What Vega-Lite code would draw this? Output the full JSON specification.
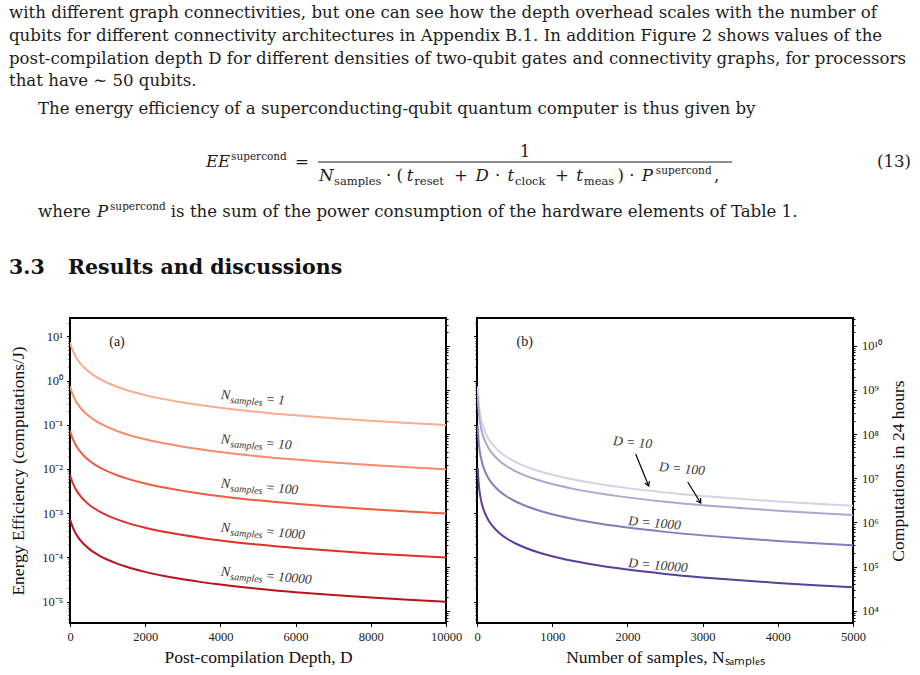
{
  "$schema": "https://vega.github.io/schema/vega-lite/v6.json",
  "background": "white",
  "padding": {"left": 8, "top": 0, "right": 0, "bottom": 0},
  "bounds": "flush",
  "spacing": 0,
  "config": {
    "view": {"stroke": "#000", "strokeWidth": 2},
    "axis": {
      "domain": false, "grid": false, "ticks": true, "tickSize": 3.5, "tickColor": "#000", "tickWidth": 1,
      "labelFont": "Liberation Serif", "labelFontSize": 12.5, "labelColor": "#222", "labelPadding": 4,
      "labelFlush": false, "labelOverlap": false,
      "titleFont": "Liberation Serif", "titleFontSize": 17.5, "titleFontWeight": "normal", "titleColor": "#111"
    },
    "text": {"font": "Liberation Serif", "color": "#222"},
    "point": {"opacity": 1}
  },
  "datasets": {
    "page": [
      {"kind": "body", "pos": 0, "line": 1, "text": "with different graph connectivities, but one can see how the depth overhead scales with the number of"},
      {"kind": "body", "pos": 0, "line": 2, "text": "qubits for different connectivity architectures in Appendix B.1. In addition Figure 2 shows values of the"},
      {"kind": "body", "pos": 0, "line": 3, "text": "post-compilation depth D for different densities of two-qubit gates and connectivity graphs, for processors"},
      {"kind": "body", "pos": 0, "line": 4, "text": "that have ∼ 50 qubits."},
      {"kind": "body", "pos": 3.21, "line": 5.211, "text": "The energy efficiency of a superconducting-qubit quantum computer is thus given by"},
      {"kind": "ital", "pos": 21.79, "line": 7.535, "text": "EE"},
      {"kind": "sup", "pos": 24.56, "line": 7.535, "text": "supercond"},
      {"kind": "body", "pos": 31.64, "line": 7.535, "text": "="},
      {"kind": "center", "pos": 57.08, "line": 7.096, "text": "1"},
      {"kind": "ital", "pos": 34.29, "line": 8.149, "text": "N"},
      {"kind": "sub", "pos": 35.95, "line": 8.149, "text": "samples"},
      {"kind": "body", "pos": 41.7, "line": 8.149, "text": "· ("},
      {"kind": "ital", "pos": 44.0, "line": 8.149, "text": "t"},
      {"kind": "sub", "pos": 44.84, "line": 8.149, "text": "reset"},
      {"kind": "body", "pos": 49.23, "line": 8.149, "text": "+"},
      {"kind": "ital", "pos": 51.6, "line": 8.149, "text": "D"},
      {"kind": "body", "pos": 53.75, "line": 8.149, "text": "·"},
      {"kind": "ital", "pos": 55.15, "line": 8.149, "text": "t"},
      {"kind": "sub", "pos": 55.98, "line": 8.149, "text": "clock"},
      {"kind": "body", "pos": 60.4, "line": 8.149, "text": "+"},
      {"kind": "ital", "pos": 62.75, "line": 8.149, "text": "t"},
      {"kind": "sub", "pos": 63.58, "line": 8.149, "text": "meas"},
      {"kind": "body", "pos": 67.3, "line": 8.149, "text": ") ·"},
      {"kind": "ital", "pos": 70.0, "line": 8.149, "text": "P"},
      {"kind": "sup", "pos": 71.55, "line": 8.149, "text": "supercond"},
      {"kind": "body", "pos": 78.0, "line": 8.149, "text": ","},
      {"kind": "body", "pos": 96.02, "line": 7.535, "text": "(13)"},
      {"kind": "body", "pos": 3.21, "line": 9.728, "text": "where"},
      {"kind": "ital", "pos": 9.73, "line": 9.728, "text": "P"},
      {"kind": "sup", "pos": 11.17, "line": 9.728, "text": "supercond"},
      {"kind": "body", "pos": 17.9, "line": 9.728, "text": "is the sum of the power consumption of the hardware elements of Table 1."},
      {"kind": "head", "pos": 0, "line": 12.228, "text": "3.3"},
      {"kind": "head", "pos": 6.53, "line": 12.228, "text": "Results and discussions"}
    ],
    "fractionBar": [
      {"pos": 34.18, "pos2": 79.98, "line": 7.316}
    ],
    "effA": [
      {"N": 1, "D": 0, "EE": 7.407}, {"N": 1, "D": 5, "EE": 7.143}, {"N": 1, "D": 10, "EE": 6.897}, {"N": 1, "D": 20, "EE": 6.452},
      {"N": 1, "D": 35, "EE": 5.882}, {"N": 1, "D": 50, "EE": 5.405}, {"N": 1, "D": 75, "EE": 4.762}, {"N": 1, "D": 100, "EE": 4.255},
      {"N": 1, "D": 150, "EE": 3.509}, {"N": 1, "D": 200, "EE": 2.985}, {"N": 1, "D": 300, "EE": 2.299}, {"N": 1, "D": 400, "EE": 1.869},
      {"N": 1, "D": 500, "EE": 1.575}, {"N": 1, "D": 650, "EE": 1.274}, {"N": 1, "D": 800, "EE": 1.07}, {"N": 1, "D": 1000, "EE": 0.8811},
      {"N": 1, "D": 1250, "EE": 0.722}, {"N": 1, "D": 1500, "EE": 0.6116}, {"N": 1, "D": 2000, "EE": 0.4684}, {"N": 1, "D": 2500, "EE": 0.3795},
      {"N": 1, "D": 3000, "EE": 0.319}, {"N": 1, "D": 3500, "EE": 0.2751}, {"N": 1, "D": 4000, "EE": 0.2418}, {"N": 1, "D": 5000, "EE": 0.1947},
      {"N": 1, "D": 6000, "EE": 0.163}, {"N": 1, "D": 7000, "EE": 0.1402}, {"N": 1, "D": 8000, "EE": 0.1229}, {"N": 1, "D": 9000, "EE": 0.1095},
      {"N": 1, "D": 10000, "EE": 0.09867},
      {"N": 10, "D": 0, "EE": 0.7407}, {"N": 10, "D": 5, "EE": 0.7143}, {"N": 10, "D": 10, "EE": 0.6897}, {"N": 10, "D": 20, "EE": 0.6452},
      {"N": 10, "D": 35, "EE": 0.5882}, {"N": 10, "D": 50, "EE": 0.5405}, {"N": 10, "D": 75, "EE": 0.4762}, {"N": 10, "D": 100, "EE": 0.4255},
      {"N": 10, "D": 150, "EE": 0.3509}, {"N": 10, "D": 200, "EE": 0.2985}, {"N": 10, "D": 300, "EE": 0.2299}, {"N": 10, "D": 400, "EE": 0.1869},
      {"N": 10, "D": 500, "EE": 0.1575}, {"N": 10, "D": 650, "EE": 0.1274}, {"N": 10, "D": 800, "EE": 0.107}, {"N": 10, "D": 1000, "EE": 0.08811},
      {"N": 10, "D": 1250, "EE": 0.0722}, {"N": 10, "D": 1500, "EE": 0.06116}, {"N": 10, "D": 2000, "EE": 0.04684}, {"N": 10, "D": 2500, "EE": 0.03795},
      {"N": 10, "D": 3000, "EE": 0.0319}, {"N": 10, "D": 3500, "EE": 0.02751}, {"N": 10, "D": 4000, "EE": 0.02418}, {"N": 10, "D": 5000, "EE": 0.01947},
      {"N": 10, "D": 6000, "EE": 0.0163}, {"N": 10, "D": 7000, "EE": 0.01402}, {"N": 10, "D": 8000, "EE": 0.01229}, {"N": 10, "D": 9000, "EE": 0.01095},
      {"N": 10, "D": 10000, "EE": 0.009867},
      {"N": 100, "D": 0, "EE": 0.07407}, {"N": 100, "D": 5, "EE": 0.07143}, {"N": 100, "D": 10, "EE": 0.06897}, {"N": 100, "D": 20, "EE": 0.06452},
      {"N": 100, "D": 35, "EE": 0.05882}, {"N": 100, "D": 50, "EE": 0.05405}, {"N": 100, "D": 75, "EE": 0.04762}, {"N": 100, "D": 100, "EE": 0.04255},
      {"N": 100, "D": 150, "EE": 0.03509}, {"N": 100, "D": 200, "EE": 0.02985}, {"N": 100, "D": 300, "EE": 0.02299}, {"N": 100, "D": 400, "EE": 0.01869},
      {"N": 100, "D": 500, "EE": 0.01575}, {"N": 100, "D": 650, "EE": 0.01274}, {"N": 100, "D": 800, "EE": 0.0107}, {"N": 100, "D": 1000, "EE": 0.008811},
      {"N": 100, "D": 1250, "EE": 0.00722}, {"N": 100, "D": 1500, "EE": 0.006116}, {"N": 100, "D": 2000, "EE": 0.004684}, {"N": 100, "D": 2500, "EE": 0.003795},
      {"N": 100, "D": 3000, "EE": 0.00319}, {"N": 100, "D": 3500, "EE": 0.002751}, {"N": 100, "D": 4000, "EE": 0.002418}, {"N": 100, "D": 5000, "EE": 0.001947},
      {"N": 100, "D": 6000, "EE": 0.00163}, {"N": 100, "D": 7000, "EE": 0.001402}, {"N": 100, "D": 8000, "EE": 0.001229}, {"N": 100, "D": 9000, "EE": 0.001095},
      {"N": 100, "D": 10000, "EE": 0.0009867},
      {"N": 1000, "D": 0, "EE": 7.407e-3}, {"N": 1000, "D": 5, "EE": 7.143e-3}, {"N": 1000, "D": 10, "EE": 6.897e-3}, {"N": 1000, "D": 20, "EE": 6.452e-3},
      {"N": 1000, "D": 35, "EE": 5.882e-3}, {"N": 1000, "D": 50, "EE": 5.405e-3}, {"N": 1000, "D": 75, "EE": 4.762e-3}, {"N": 1000, "D": 100, "EE": 4.255e-3},
      {"N": 1000, "D": 150, "EE": 3.509e-3}, {"N": 1000, "D": 200, "EE": 2.985e-3}, {"N": 1000, "D": 300, "EE": 2.299e-3}, {"N": 1000, "D": 400, "EE": 1.869e-3},
      {"N": 1000, "D": 500, "EE": 1.575e-3}, {"N": 1000, "D": 650, "EE": 1.274e-3}, {"N": 1000, "D": 800, "EE": 1.07e-3}, {"N": 1000, "D": 1000, "EE": 8.811e-4},
      {"N": 1000, "D": 1250, "EE": 7.22e-4}, {"N": 1000, "D": 1500, "EE": 6.116e-4}, {"N": 1000, "D": 2000, "EE": 4.684e-4}, {"N": 1000, "D": 2500, "EE": 3.795e-4},
      {"N": 1000, "D": 3000, "EE": 3.19e-4}, {"N": 1000, "D": 3500, "EE": 2.751e-4}, {"N": 1000, "D": 4000, "EE": 2.418e-4}, {"N": 1000, "D": 5000, "EE": 1.947e-4},
      {"N": 1000, "D": 6000, "EE": 1.63e-4}, {"N": 1000, "D": 7000, "EE": 1.402e-4}, {"N": 1000, "D": 8000, "EE": 1.229e-4}, {"N": 1000, "D": 9000, "EE": 1.095e-4},
      {"N": 1000, "D": 10000, "EE": 9.867e-5},
      {"N": 10000, "D": 0, "EE": 7.407e-4}, {"N": 10000, "D": 5, "EE": 7.143e-4}, {"N": 10000, "D": 10, "EE": 6.897e-4}, {"N": 10000, "D": 20, "EE": 6.452e-4},
      {"N": 10000, "D": 35, "EE": 5.882e-4}, {"N": 10000, "D": 50, "EE": 5.405e-4}, {"N": 10000, "D": 75, "EE": 4.762e-4}, {"N": 10000, "D": 100, "EE": 4.255e-4},
      {"N": 10000, "D": 150, "EE": 3.509e-4}, {"N": 10000, "D": 200, "EE": 2.985e-4}, {"N": 10000, "D": 300, "EE": 2.299e-4}, {"N": 10000, "D": 400, "EE": 1.869e-4},
      {"N": 10000, "D": 500, "EE": 1.575e-4}, {"N": 10000, "D": 650, "EE": 1.274e-4}, {"N": 10000, "D": 800, "EE": 1.07e-4}, {"N": 10000, "D": 1000, "EE": 8.811e-5},
      {"N": 10000, "D": 1250, "EE": 7.22e-5}, {"N": 10000, "D": 1500, "EE": 6.116e-5}, {"N": 10000, "D": 2000, "EE": 4.684e-5}, {"N": 10000, "D": 2500, "EE": 3.795e-5},
      {"N": 10000, "D": 3000, "EE": 3.19e-5}, {"N": 10000, "D": 3500, "EE": 2.751e-5}, {"N": 10000, "D": 4000, "EE": 2.418e-5}, {"N": 10000, "D": 5000, "EE": 1.947e-5},
      {"N": 10000, "D": 6000, "EE": 1.63e-5}, {"N": 10000, "D": 7000, "EE": 1.402e-5}, {"N": 10000, "D": 8000, "EE": 1.229e-5}, {"N": 10000, "D": 9000, "EE": 1.095e-5},
      {"N": 10000, "D": 10000, "EE": 9.867e-6}
    ],
    "labA": [
      {"N": 1, "D": 4000, "EE": 0.381, "eq": "= 1"},
      {"N": 10, "D": 4000, "EE": 0.0381, "eq": "= 10"},
      {"N": 100, "D": 4000, "EE": 0.00381, "eq": "= 100"},
      {"N": 1000, "D": 4000, "EE": 0.000381, "eq": "= 1000"},
      {"N": 10000, "D": 4000, "EE": 0.0000381, "eq": "= 10000"}
    ],
    "effB": [
      {"depth": 10, "samples": 10, "comp": 1.192e9}, {"depth": 10, "samples": 15, "comp": 7.945e8}, {"depth": 10, "samples": 20, "comp": 5.959e8},
      {"depth": 10, "samples": 30, "comp": 3.972e8}, {"depth": 10, "samples": 40, "comp": 2.979e8}, {"depth": 10, "samples": 50, "comp": 2.383e8},
      {"depth": 10, "samples": 75, "comp": 1.589e8}, {"depth": 10, "samples": 100, "comp": 1.192e8}, {"depth": 10, "samples": 150, "comp": 7.945e7},
      {"depth": 10, "samples": 200, "comp": 5.959e7}, {"depth": 10, "samples": 300, "comp": 3.972e7}, {"depth": 10, "samples": 400, "comp": 2.979e7},
      {"depth": 10, "samples": 500, "comp": 2.383e7}, {"depth": 10, "samples": 650, "comp": 1.833e7}, {"depth": 10, "samples": 800, "comp": 1.49e7},
      {"depth": 10, "samples": 1000, "comp": 1.192e7}, {"depth": 10, "samples": 1250, "comp": 9.534e6}, {"depth": 10, "samples": 1500, "comp": 7.945e6},
      {"depth": 10, "samples": 2000, "comp": 5.959e6}, {"depth": 10, "samples": 2500, "comp": 4.767e6}, {"depth": 10, "samples": 3000, "comp": 3.972e6},
      {"depth": 10, "samples": 3500, "comp": 3.405e6}, {"depth": 10, "samples": 4000, "comp": 2.979e6}, {"depth": 10, "samples": 4500, "comp": 2.648e6},
      {"depth": 10, "samples": 5000, "comp": 2.383e6},
      {"depth": 100, "samples": 10, "comp": 7.353e8}, {"depth": 100, "samples": 15, "comp": 4.902e8}, {"depth": 100, "samples": 20, "comp": 3.677e8},
      {"depth": 100, "samples": 30, "comp": 2.451e8}, {"depth": 100, "samples": 40, "comp": 1.838e8}, {"depth": 100, "samples": 50, "comp": 1.471e8},
      {"depth": 100, "samples": 75, "comp": 9.804e7}, {"depth": 100, "samples": 100, "comp": 7.353e7}, {"depth": 100, "samples": 150, "comp": 4.902e7},
      {"depth": 100, "samples": 200, "comp": 3.677e7}, {"depth": 100, "samples": 300, "comp": 2.451e7}, {"depth": 100, "samples": 400, "comp": 1.838e7},
      {"depth": 100, "samples": 500, "comp": 1.471e7}, {"depth": 100, "samples": 650, "comp": 1.131e7}, {"depth": 100, "samples": 800, "comp": 9.191e6},
      {"depth": 100, "samples": 1000, "comp": 7.353e6}, {"depth": 100, "samples": 1250, "comp": 5.883e6}, {"depth": 100, "samples": 1500, "comp": 4.902e6},
      {"depth": 100, "samples": 2000, "comp": 3.677e6}, {"depth": 100, "samples": 2500, "comp": 2.941e6}, {"depth": 100, "samples": 3000, "comp": 2.451e6},
      {"depth": 100, "samples": 3500, "comp": 2.101e6}, {"depth": 100, "samples": 4000, "comp": 1.838e6}, {"depth": 100, "samples": 4500, "comp": 1.634e6},
      {"depth": 100, "samples": 5000, "comp": 1.471e6},
      {"depth": 1000, "samples": 10, "comp": 1.522e8}, {"depth": 1000, "samples": 15, "comp": 1.015e8}, {"depth": 1000, "samples": 20, "comp": 7.612e7},
      {"depth": 1000, "samples": 30, "comp": 5.075e7}, {"depth": 1000, "samples": 40, "comp": 3.806e7}, {"depth": 1000, "samples": 50, "comp": 3.045e7},
      {"depth": 1000, "samples": 75, "comp": 2.03e7}, {"depth": 1000, "samples": 100, "comp": 1.522e7}, {"depth": 1000, "samples": 150, "comp": 1.015e7},
      {"depth": 1000, "samples": 200, "comp": 7.612e6}, {"depth": 1000, "samples": 300, "comp": 5.075e6}, {"depth": 1000, "samples": 400, "comp": 3.806e6},
      {"depth": 1000, "samples": 500, "comp": 3.045e6}, {"depth": 1000, "samples": 650, "comp": 2.342e6}, {"depth": 1000, "samples": 800, "comp": 1.903e6},
      {"depth": 1000, "samples": 1000, "comp": 1.522e6}, {"depth": 1000, "samples": 1250, "comp": 1.218e6}, {"depth": 1000, "samples": 1500, "comp": 1.015e6},
      {"depth": 1000, "samples": 2000, "comp": 7.612e5}, {"depth": 1000, "samples": 2500, "comp": 6.09e5}, {"depth": 1000, "samples": 3000, "comp": 5.075e5},
      {"depth": 1000, "samples": 3500, "comp": 4.35e5}, {"depth": 1000, "samples": 4000, "comp": 3.806e5}, {"depth": 1000, "samples": 4500, "comp": 3.383e5},
      {"depth": 1000, "samples": 5000, "comp": 3.045e5},
      {"depth": 10000, "samples": 10, "comp": 1.705e7}, {"depth": 10000, "samples": 15, "comp": 1.137e7}, {"depth": 10000, "samples": 20, "comp": 8.525e6},
      {"depth": 10000, "samples": 30, "comp": 5.683e6}, {"depth": 10000, "samples": 40, "comp": 4.262e6}, {"depth": 10000, "samples": 50, "comp": 3.41e6},
      {"depth": 10000, "samples": 75, "comp": 2.273e6}, {"depth": 10000, "samples": 100, "comp": 1.705e6}, {"depth": 10000, "samples": 150, "comp": 1.137e6},
      {"depth": 10000, "samples": 200, "comp": 8.525e5}, {"depth": 10000, "samples": 300, "comp": 5.683e5}, {"depth": 10000, "samples": 400, "comp": 4.262e5},
      {"depth": 10000, "samples": 500, "comp": 3.41e5}, {"depth": 10000, "samples": 650, "comp": 2.623e5}, {"depth": 10000, "samples": 800, "comp": 2.131e5},
      {"depth": 10000, "samples": 1000, "comp": 1.705e5}, {"depth": 10000, "samples": 1250, "comp": 1.364e5}, {"depth": 10000, "samples": 1500, "comp": 1.137e5},
      {"depth": 10000, "samples": 2000, "comp": 8.525e4}, {"depth": 10000, "samples": 2500, "comp": 6.82e4}, {"depth": 10000, "samples": 3000, "comp": 5.683e4},
      {"depth": 10000, "samples": 3500, "comp": 4.871e4}, {"depth": 10000, "samples": 4000, "comp": 4.262e4}, {"depth": 10000, "samples": 4500, "comp": 3.789e4},
      {"depth": 10000, "samples": 5000, "comp": 3.41e4}
    ],
    "labB": [
      {"depth": 10, "samples": 1805, "comp": 5.65e7, "label": "D = 10"},
      {"depth": 100, "samples": 2416, "comp": 1.46e7, "label": "D = 100"},
      {"depth": 1000, "samples": 2008, "comp": 8.75e5, "label": "D = 1000"},
      {"depth": 10000, "samples": 2008, "comp": 9.8e4, "label": "D = 10000"}
    ],
    "arrowsB": [
      {"id": 1, "samples": 2110, "comp": 3.54e7, "samples2": 2283, "comp2": 6.67e6},
      {"id": 2, "samples": 2802, "comp": 8.22e6, "samples2": 2975, "comp2": 2.75e6}
    ]
  },
  "vconcat": [
    {
      "width": 843,
      "height": 318,
      "view": {"stroke": null},
      "data": {"name": "page"},
      "encoding": {
        "x": {"field": "pos", "type": "quantitative", "scale": {"domain": [0, 100], "range": [-61, 843], "nice": false, "zero": false}, "axis": null},
        "y": {"field": "line", "type": "quantitative", "scale": {"domain": [0.2105, 14.158], "reverse": true, "nice": false, "zero": false}, "axis": null}
      },
      "layer": [
        {
          "transform": [{"filter": "datum.kind === 'body'"}],
          "mark": {"type": "text", "align": "left", "baseline": "alphabetic", "font": "DejaVu Serif", "fontSize": 16.6, "color": "#1c1c1c"},
          "encoding": {"text": {"field": "text"}}
        },
        {
          "transform": [{"filter": "datum.kind === 'ital'"}],
          "mark": {"type": "text", "align": "left", "baseline": "alphabetic", "font": "DejaVu Serif", "fontStyle": "italic", "fontSize": 16.6, "color": "#1c1c1c"},
          "encoding": {"text": {"field": "text"}}
        },
        {
          "transform": [{"filter": "datum.kind === 'center'"}],
          "mark": {"type": "text", "align": "center", "baseline": "alphabetic", "font": "DejaVu Serif", "fontSize": 16.6, "color": "#1c1c1c"},
          "encoding": {"text": {"field": "text"}}
        },
        {
          "transform": [{"filter": "datum.kind === 'sub'"}],
          "mark": {"type": "text", "align": "left", "baseline": "alphabetic", "font": "DejaVu Serif", "fontSize": 11.5, "dy": 4, "color": "#1c1c1c"},
          "encoding": {"text": {"field": "text"}}
        },
        {
          "transform": [{"filter": "datum.kind === 'sup'"}],
          "mark": {"type": "text", "align": "left", "baseline": "alphabetic", "font": "DejaVu Serif", "fontSize": 10.5, "dy": -7, "color": "#1c1c1c"},
          "encoding": {"text": {"field": "text"}}
        },
        {
          "transform": [{"filter": "datum.kind === 'head'"}],
          "mark": {"type": "text", "align": "left", "baseline": "alphabetic", "font": "DejaVu Serif", "fontWeight": "bold", "fontSize": 20.5, "color": "#111"},
          "encoding": {"text": {"field": "text"}}
        },
        {
          "data": {"name": "fractionBar"},
          "mark": {"type": "rule", "color": "#1c1c1c", "strokeWidth": 1},
          "encoding": {"x2": {"field": "pos2"}}
        }
      ]
    },
    {
      "hconcat": [
        {
          "width": 376,
          "height": 305,
          "layer": [
            {
              "encoding": {
                "x": {
                  "field": "D", "type": "quantitative",
                  "scale": {"domain": [0, 10000], "nice": false, "zero": false},
                  "axis": {"values": [0, 2000, 4000, 6000, 8000, 10000], "format": "d", "title": "Post-compilation Depth, D", "titlePadding": 5}
                },
                "y": {
                  "field": "EE", "type": "quantitative",
                  "scale": {"type": "log", "domain": [3.27e-6, 26], "nice": false},
                  "axis": {
                    "orient": "left",
                    "values": [4e-6, 5e-6, 6e-6, 7e-6, 8e-6, 9e-6, 1e-5, 2e-5, 3e-5, 4e-5, 5e-5, 6e-5, 7e-5, 8e-5, 9e-5, 1e-4, 2e-4, 3e-4, 4e-4, 5e-4, 6e-4, 7e-4, 8e-4, 9e-4, 1e-3, 2e-3, 3e-3, 4e-3, 5e-3, 6e-3, 7e-3, 8e-3, 9e-3, 0.01, 0.02, 0.03, 0.04, 0.05, 0.06, 0.07, 0.08, 0.09, 0.1, 0.2, 0.3, 0.4, 0.5, 0.6, 0.7, 0.8, 0.9, 1, 2, 3, 4, 5, 6, 7, 8, 9, 10, 20],
                    "tickSize": {"condition": {"test": "abs(log(datum.value) / LN10 - round(log(datum.value) / LN10)) < 0.001", "value": 3.5}, "value": 2},
                    "labelExpr": "abs(log(datum.value) / LN10 - round(log(datum.value) / LN10)) < 0.001 ? '10' + replace(replace(replace(replace(replace(replace(replace(replace(replace(replace(replace('' + round(log(datum.value) / LN10), '-', '⁻'), '0', '⁰'), '1', '¹'), '2', '²'), '3', '³'), '4', '⁴'), '5', '⁵'), '6', '⁶'), '7', '⁷'), '8', '⁸'), '9', '⁹') : ''",
                    "title": "Energy Efficiency (computations/J)",
                    "titlePadding": 14
                  }
                }
              },
              "layer": [
                {
                  "data": {"name": "effA"},
                  "mark": {"type": "line", "strokeWidth": 2, "interpolate": "monotone", "clip": true},
                  "encoding": {
                    "color": {"field": "N", "type": "ordinal", "scale": {"domain": [1, 10, 100, 1000, 10000], "range": ["#fcab8f", "#fb8a6a", "#f45a3f", "#df2f28", "#b9131c"]}, "legend": null}
                  }
                },
                {
                  "data": {"name": "labA"},
                  "mark": {"type": "text", "align": "left", "baseline": "alphabetic", "fontStyle": "italic", "fontSize": 14, "angle": 5, "color": "#333"},
                  "encoding": {"text": {"value": "N"}}
                },
                {
                  "data": {"name": "labA"},
                  "mark": {"type": "text", "align": "left", "baseline": "alphabetic", "fontStyle": "italic", "fontSize": 10, "angle": 5, "dx": 10, "dy": 3, "color": "#333"},
                  "encoding": {"text": {"value": "samples"}}
                },
                {
                  "data": {"name": "labA"},
                  "mark": {"type": "text", "align": "left", "baseline": "alphabetic", "fontStyle": "italic", "fontSize": 13.5, "angle": 5, "dx": 45, "color": "#333"},
                  "encoding": {"text": {"field": "eq"}}
                },
                {
                  "data": {"values": [{"D": 1250, "EE": 7.43, "tag": "(a)"}]},
                  "mark": {"type": "text", "align": "center", "baseline": "middle", "fontSize": 14, "color": "#222"},
                  "encoding": {"text": {"field": "tag"}}
                }
              ]
            },
            {
              "data": {"values": [{"c": 1e4}, {"c": 1e10}]},
              "mark": {"type": "point", "opacity": 0},
              "encoding": {
                "y": {
                  "field": "c", "type": "quantitative",
                  "scale": {"type": "log", "domain": [5272, 4.227e10], "nice": false},
                  "axis": {
                    "orient": "right", "labels": false, "title": null,
                    "values": [6e3, 7e3, 8e3, 9e3, 1e4, 2e4, 3e4, 4e4, 5e4, 6e4, 7e4, 8e4, 9e4, 1e5, 2e5, 3e5, 4e5, 5e5, 6e5, 7e5, 8e5, 9e5, 1e6, 2e6, 3e6, 4e6, 5e6, 6e6, 7e6, 8e6, 9e6, 1e7, 2e7, 3e7, 4e7, 5e7, 6e7, 7e7, 8e7, 9e7, 1e8, 2e8, 3e8, 4e8, 5e8, 6e8, 7e8, 8e8, 9e8, 1e9, 2e9, 3e9, 4e9, 5e9, 6e9, 7e9, 8e9, 9e9, 1e10, 2e10, 3e10, 4e10],
                    "tickSize": {"condition": {"test": "abs(log(datum.value) / LN10 - round(log(datum.value) / LN10)) < 0.001", "value": 3.5}, "value": 2}
                  }
                }
              }
            }
          ],
          "resolve": {"scale": {"y": "independent"}}
        },
        {
          "width": 376,
          "height": 305,
          "layer": [
            {
              "encoding": {
                "x": {
                  "field": "samples", "type": "quantitative",
                  "scale": {"domain": [0, 5000], "nice": false, "zero": false},
                  "axis": {"values": [0, 1000, 2000, 3000, 4000, 5000], "format": "d", "title": "Number of samples, Nₛₐₘₚₗₑₛ", "titlePadding": 5}
                },
                "y": {
                  "field": "comp", "type": "quantitative",
                  "scale": {"type": "log", "domain": [5272, 4.227e10], "nice": false},
                  "axis": {
                    "orient": "right",
                    "values": [6e3, 7e3, 8e3, 9e3, 1e4, 2e4, 3e4, 4e4, 5e4, 6e4, 7e4, 8e4, 9e4, 1e5, 2e5, 3e5, 4e5, 5e5, 6e5, 7e5, 8e5, 9e5, 1e6, 2e6, 3e6, 4e6, 5e6, 6e6, 7e6, 8e6, 9e6, 1e7, 2e7, 3e7, 4e7, 5e7, 6e7, 7e7, 8e7, 9e7, 1e8, 2e8, 3e8, 4e8, 5e8, 6e8, 7e8, 8e8, 9e8, 1e9, 2e9, 3e9, 4e9, 5e9, 6e9, 7e9, 8e9, 9e9, 1e10, 2e10, 3e10, 4e10],
                    "tickSize": {"condition": {"test": "abs(log(datum.value) / LN10 - round(log(datum.value) / LN10)) < 0.001", "value": 3.5}, "value": 2},
                    "labelExpr": "abs(log(datum.value) / LN10 - round(log(datum.value) / LN10)) < 0.001 ? '10' + replace(replace(replace(replace(replace(replace(replace(replace(replace(replace(replace('' + round(log(datum.value) / LN10), '-', '⁻'), '0', '⁰'), '1', '¹'), '2', '²'), '3', '³'), '4', '⁴'), '5', '⁵'), '6', '⁶'), '7', '⁷'), '8', '⁸'), '9', '⁹') : ''",
                    "labelPadding": 5,
                    "title": "Computations in 24 hours",
                    "titleAngle": 270,
                    "titleBaseline": "top",
                    "titlePadding": 8
                  }
                }
              },
              "layer": [
                {
                  "data": {"name": "effB"},
                  "mark": {"type": "line", "strokeWidth": 2, "interpolate": "monotone", "clip": true},
                  "encoding": {
                    "color": {"field": "depth", "type": "ordinal", "scale": {"domain": [10, 100, 1000, 10000], "range": ["#d2d1e8", "#aaa7d2", "#837fbd", "#5b3d9b"]}, "legend": null}
                  }
                },
                {
                  "data": {"name": "labB"},
                  "mark": {"type": "text", "align": "left", "baseline": "alphabetic", "fontStyle": "italic", "fontSize": 13.5, "angle": 5, "color": "#333"},
                  "encoding": {"text": {"field": "label"}}
                },
                {
                  "data": {"name": "arrowsB"},
                  "mark": {"type": "rule", "color": "#000", "strokeWidth": 1.2},
                  "encoding": {"x2": {"field": "samples2"}, "y2": {"field": "comp2"}}
                },
                {
                  "data": {"name": "arrowsB"},
                  "transform": [{"filter": "datum.id === 1"}],
                  "mark": {"type": "point", "shape": "M-0.6,-1L0,0L0.6,-1", "filled": false, "stroke": "#000", "strokeWidth": 1.2, "size": 70, "angle": 338},
                  "encoding": {
                    "x": {"field": "samples2", "type": "quantitative", "scale": {"domain": [0, 5000], "nice": false, "zero": false}},
                    "y": {"field": "comp2", "type": "quantitative", "scale": {"type": "log", "domain": [5272, 4.227e10], "nice": false}}
                  }
                },
                {
                  "data": {"name": "arrowsB"},
                  "transform": [{"filter": "datum.id === 2"}],
                  "mark": {"type": "point", "shape": "M-0.6,-1L0,0L0.6,-1", "filled": false, "stroke": "#000", "strokeWidth": 1.2, "size": 70, "angle": 328},
                  "encoding": {
                    "x": {"field": "samples2", "type": "quantitative", "scale": {"domain": [0, 5000], "nice": false, "zero": false}},
                    "y": {"field": "comp2", "type": "quantitative", "scale": {"type": "log", "domain": [5272, 4.227e10], "nice": false}}
                  }
                },
                {
                  "data": {"values": [{"samples": 634, "comp": 1.21e10, "tag": "(b)"}]},
                  "mark": {"type": "text", "align": "center", "baseline": "middle", "fontSize": 14, "color": "#222"},
                  "encoding": {"text": {"field": "tag"}}
                }
              ]
            },
            {
              "data": {"values": [{"e": 1e-5}, {"e": 10}]},
              "mark": {"type": "point", "opacity": 0},
              "encoding": {
                "y": {
                  "field": "e", "type": "quantitative",
                  "scale": {"type": "log", "domain": [3.27e-6, 26], "nice": false},
                  "axis": {
                    "orient": "left", "labels": false, "title": null,
                    "values": [4e-6, 5e-6, 6e-6, 7e-6, 8e-6, 9e-6, 1e-5, 2e-5, 3e-5, 4e-5, 5e-5, 6e-5, 7e-5, 8e-5, 9e-5, 1e-4, 2e-4, 3e-4, 4e-4, 5e-4, 6e-4, 7e-4, 8e-4, 9e-4, 1e-3, 2e-3, 3e-3, 4e-3, 5e-3, 6e-3, 7e-3, 8e-3, 9e-3, 0.01, 0.02, 0.03, 0.04, 0.05, 0.06, 0.07, 0.08, 0.09, 0.1, 0.2, 0.3, 0.4, 0.5, 0.6, 0.7, 0.8, 0.9, 1, 2, 3, 4, 5, 6, 7, 8, 9, 10, 20],
                    "tickSize": {"condition": {"test": "abs(log(datum.value) / LN10 - round(log(datum.value) / LN10)) < 0.001", "value": 3.5}, "value": 2}
                  }
                }
              }
            }
          ],
          "resolve": {"scale": {"y": "independent"}}
        }
      ],
      "spacing": 9,
      "resolve": {"scale": {"color": "independent"}}
    }
  ]
}
